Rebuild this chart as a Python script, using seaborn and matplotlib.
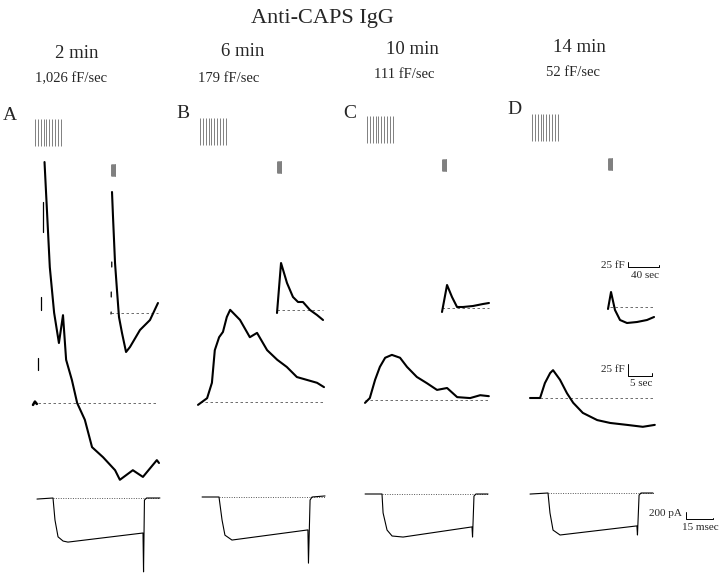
import numpy as np
import pandas as pd
import matplotlib.pyplot as plt
import seaborn as sns

W, H = 720, 574

panels = ["A", "B", "C", "D"]
minutes = ["2 min", "6 min", "10 min", "14 min"]
rates = ["1,026 fF/sec", "179 fF/sec", "111 fF/sec", "52 fF/sec"]

# stimulus train, pulse times (s)
pulse_times = [0.4, 1.0, 1.6, 2.2, 2.8, 3.4, 4.0, 4.6, 5.2, 5.8]

# main capacitance traces: time (s) vs delta C (fF)
a_pre_t = [0, 0.4, 0.8]
a_pre_c = [-4, 3, -2]
a_rise_t = [1.0, 1.0, np.nan, 1.7, 1.7, np.nan, 2.1, 2.1]
a_rise_c = [69, 94, np.nan, 194, 221, np.nan, 356, 419]
a_big_t = [2.4, 3.5, 4.4, 5.4, 6.25, 6.9, 8.1, 9.2, 10.8, 12.3, 14.6, 17.1, 18.1, 20.8, 22.9, 25.8, 26.25]
a_big_c = [502, 283, 188, 125, 183, 90, 48, 0, -35, -92, -113, -140, -160, -140, -154, -119, -125]
b_big_t = [0, 1.9, 2.9, 3.5, 4.4, 5.2, 6.0, 6.7, 8.75, 10.8, 12.3, 14.4, 16.5, 18.5, 20.6, 22.7, 24.8, 26.25]
b_big_c = [-6, 8, 40, 108, 135, 146, 177, 192, 171, 135, 144, 108, 88, 73, 52, 46, 40, 31]
c_big_t = [0, 1.0, 2.1, 3.1, 4.2, 5.6, 7.3, 8.75, 10.8, 12.9, 15.0, 17.1, 19.2, 21.9, 24.0, 25.8]
c_big_c = [-6, 4, 42, 69, 88, 94, 88, 69, 48, 35, 21, 25, 6, 4, 10, 8]
d_big_t = [0, 2.1, 3.1, 4.2, 4.8, 6.25, 7.7, 9.0, 11.0, 14.0, 16.7, 20.2, 23.5, 26.0]
d_big_c = [0, 0, 31, 52, 58, 38, 10, -10, -31, -46, -52, -56, -60, -56]
big_base = [(0, 26), (0.4, 26.25), (0, 25.8), (0, 26)]

# inset (slow) capacitance traces
a_ins_rise_t = [0, 0.2, np.nan, 0.3, 0.3, np.nan, 1.0, 1.0]
a_ins_rise_c = [-5, 5, np.nan, 80, 105, np.nan, 230, 255]
a_ins_t = [1.3, 2.6, 5.2, 7.7, 10.3, 14.2, 19.4, 24.5, 37.4, 50.3, 60.6]
a_ins_c = [605, 480, 250, 115, -20, -100, -195, -170, -85, -35, 50]
b_ins_t = [0, 5.2, 12.9, 20.6, 27.1, 33.5, 42.6, 51.6, 59.4]
b_ins_c = [-15, 235, 135, 65, 40, 40, 0, -25, -50]
c_ins_t = [0, 6.5, 12.9, 19.4, 27.1, 40.0, 52.9, 60.6]
c_ins_c = [-20, 115, 55, 5, 5, 10, 20, 25]
d_ins_t = [0, 3.9, 9.0, 15.5, 24.5, 37.4, 50.3, 59.4]
d_ins_c = [-10, 75, -15, -65, -80, -75, -65, -50]
ins_base = [(0, 60.6), (0, 59.4), (0, 60.6), (2.6, 60)]

# Ca current: time (ms) vs current (pA)
a_cur_t = [-8.9, 0, 1.1, 2.8, 5.6, 8.3, 50, 50.3, 50.8, 52, 59.4]
a_cur_i = [-30, 0, -630, -1110, -1230, -1260, -1000, -2110, -60, 0, 0]
b_cur_t = [-9.4, 0, 1.7, 3.3, 7.2, 49.4, 49.7, 50.6, 51.7, 58.9]
b_cur_i = [0, 0, -660, -1090, -1230, -940, -1890, -85, 0, 30]
c_cur_t = [-9.4, 0, 0.6, 2.8, 5.6, 11.7, 50, 50.3, 51.1, 52.2, 58.9]
c_cur_i = [0, 0, -540, -1030, -1200, -1230, -940, -1230, -60, 0, 0]
d_cur_t = [-10, 0, 1.1, 2.8, 6.7, 49.4, 49.7, 50.6, 51.7, 58.3]
d_cur_i = [-30, 0, -570, -1060, -1200, -940, -1200, -60, 0, 0]
cur_base = (0, 59)

big_traces = [(a_big_t, a_big_c), (b_big_t, b_big_c), (c_big_t, c_big_c), (d_big_t, d_big_c)]
ins_traces = [(a_ins_t, a_ins_c), (b_ins_t, b_ins_c), (c_ins_t, c_ins_c), (d_ins_t, d_ins_c)]
cur_traces = [(a_cur_t, a_cur_i), (b_cur_t, b_cur_i), (c_cur_t, c_cur_i), (d_cur_t, d_cur_i)]

# layout: pixel origin of each trace and pixel-per-unit scales
big_origin = [(33, 403), (198, 402), (365, 400), (530, 398)]
ins_origin = [(111, 313), (277, 310), (442, 308), (608, 307)]
cur_origin = [(53, 498), (219, 497), (382, 494), (548, 493)]
BIG_SX, BIG_SY = 4.8, 0.48
INS_SX, INS_SY = 0.775, 0.2
CUR_SX, CUR_SY = 1.8, 0.035

sns.set_style("white")
plt.rcParams["font.family"] = ["Liberation Serif", "DejaVu Serif"]

fig = plt.figure(figsize=(7.2, 5.74), dpi=100)


def overlay(origin, sx, sy):
    x0, y0 = origin
    ax = fig.add_axes([0, 0, 1, 1])
    ax.set_xlim(-x0 / sx, (W - x0) / sx)
    ax.set_ylim(-(H - y0) / sy, y0 / sy)
    ax.set_axis_off()
    return ax


def trace(ax, t, v, lw=1.4, color="black"):
    df = pd.DataFrame({"t": t, "v": v})
    sns.lineplot(data=df, x="t", y="v", ax=ax, sort=False, estimator=None,
                 color=color, lw=lw, legend=False)


def ftext(x, y, s, **kw):
    fig.text(x / W, 1 - y / H, s, **kw)


for i in range(4):
    # fast capacitance trace
    ax = overlay(big_origin[i], BIG_SX, BIG_SY)
    ax.vlines(pulse_times, 535, 592, color="#808080", lw=0.7)
    ax.plot(big_base[i], [0, 0], color="#555555", lw=0.6, dashes=(3, 3))
    if i == 0:
        trace(ax, a_pre_t, a_pre_c, lw=1.8)
        ax.plot(a_rise_t, a_rise_c, color="black", lw=0.9)
    t, c = big_traces[i]
    trace(ax, t, c, lw=1.5)

    # slow inset trace
    ax = overlay(ins_origin[i], INS_SX, INS_SY)
    ax.vlines(pulse_times, 685, 745, color="#808080", lw=0.7)
    ax.plot(ins_base[i], [0, 0], color="#555555", lw=0.6, dashes=(3, 3))
    if i == 0:
        ax.plot(a_ins_rise_t, a_ins_rise_c, color="black", lw=0.9)
    t, c = ins_traces[i]
    trace(ax, t, c, lw=1.5)

    # current trace
    ax = overlay(cur_origin[i], CUR_SX, CUR_SY)
    ax.plot(cur_base, [0, 0], color="#555555", lw=0.7, ls=(0, (1, 1.5)))
    t, cur = cur_traces[i]
    trace(ax, t, cur, lw=0.8)

# scale bars (panel D)
ax = overlay(ins_origin[3], INS_SX, INS_SY)
ax.plot([25.8, 25.8, 65.8, 65.8], [225, 200, 200, 208], color="black", lw=0.7)
ax = overlay(big_origin[3], BIG_SX, BIG_SY)
ax.plot([20.4, 20.4, 25.4, 25.4], [71, 46, 46, 52], color="black", lw=0.7)
ax = overlay(cur_origin[3], CUR_SX, CUR_SY)
ax.plot([76.7, 76.7, 91.7, 91.7], [-543, -743, -743, -700], color="black", lw=0.7)

ftext(625, 265, "25 fF", fontsize=8, ha="right", va="center")
ftext(645, 276, "40 sec", fontsize=8, ha="center", va="center")
ftext(625, 369, "25 fF", fontsize=8, ha="right", va="center")
ftext(641, 383, "5 sec", fontsize=8, ha="center", va="center")
ftext(682, 513, "200 pA", fontsize=8, ha="right", va="center")
ftext(700, 528, "15 msec", fontsize=8, ha="center", va="center")

# titles and labels
ftext(322, 18, "Anti-CAPS IgG", fontsize=16, ha="center", va="center")
min_x = [77, 243, 412, 579]
min_y = [54, 52, 50, 48]
rate_x = [71, 229, 404, 573]
rate_y = [79, 78, 75, 73]
letter_xy = [(10, 116), (183, 114), (350, 113), (514, 110)]
for i in range(4):
    ftext(min_x[i], min_y[i], minutes[i], fontsize=13.5, ha="center", va="center")
    ftext(rate_x[i], rate_y[i], rates[i], fontsize=10.5, ha="center", va="center")
    ftext(*letter_xy[i], panels[i], fontsize=14, ha="center", va="center")

fig.savefig("out.png", dpi=100)
